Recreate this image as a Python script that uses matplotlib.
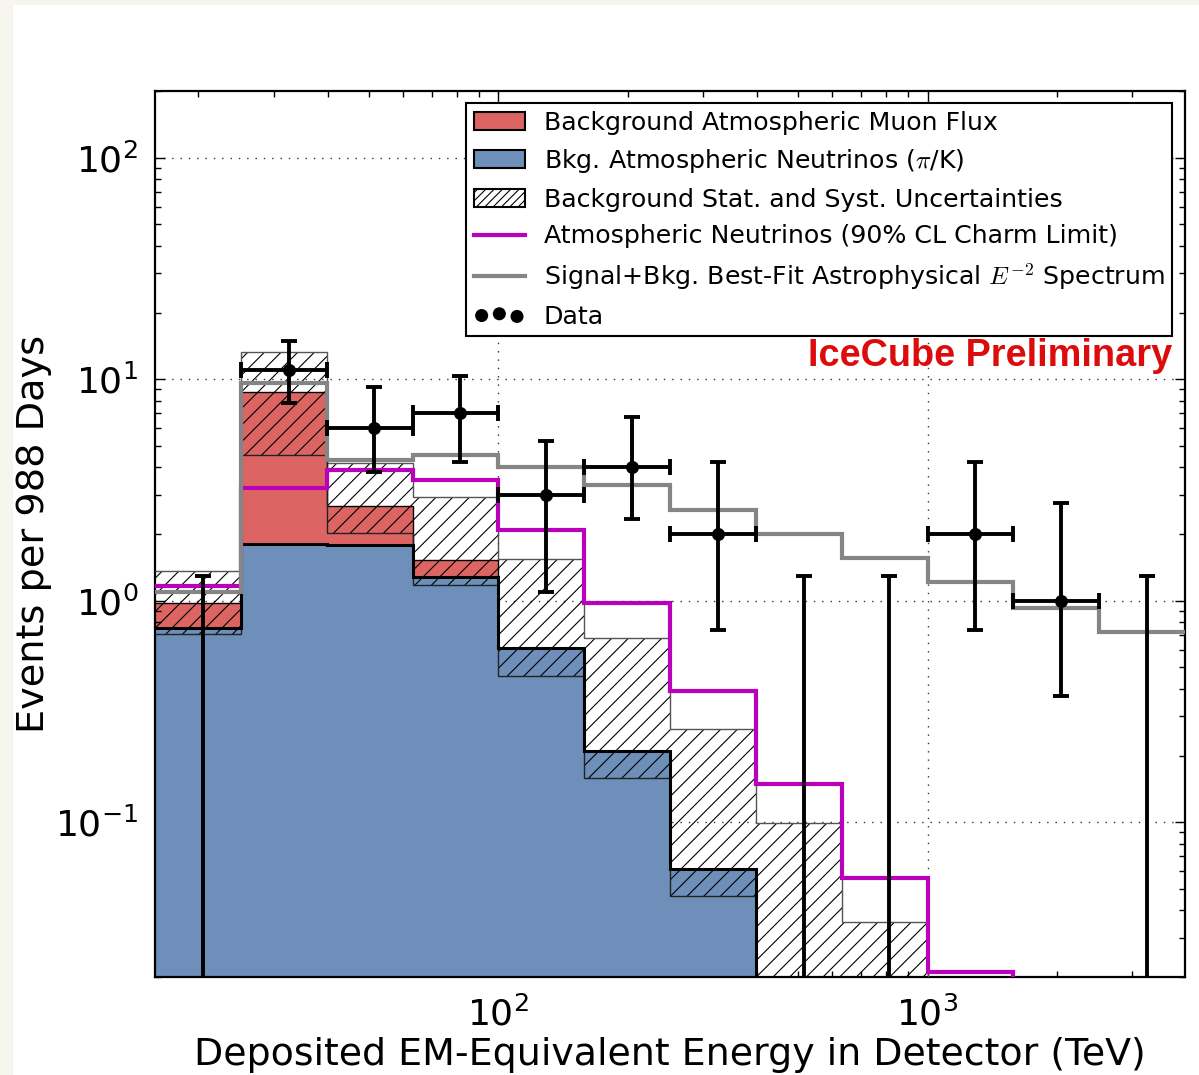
#!/usr/bin/env python3
"""
IceCube cascade energy spectrum - events per 988 days vs deposited energy
"""

import matplotlib
matplotlib.use('Agg')
import matplotlib.pyplot as plt
import matplotlib.patches as mpatches
from matplotlib.lines import Line2D
import numpy as np

plt.rcParams['mathtext.fontset'] = 'cm'
plt.rcParams['axes.unicode_minus'] = False
plt.rcParams['hatch.linewidth'] = 0.8

# bin edges in TeV (log10 steps of 0.2 from 10^1.2 to 10^3.6)
log_edges = [1.2, 1.4, 1.6, 1.8, 2.0, 2.2, 2.4, 2.6, 2.8, 3.0, 3.2, 3.4, 3.6]
edges = np.power(10.0, log_edges)

# stacked background components
atm_nu = [0.755, 1.81, 1.79, 1.28, 0.614, 0.210, 0.0617, 0.012, 0.004, 0.0015, 0.0005, 0.0002]
atm_mu = [0.225, 6.97, 0.89, 0.25, 0.0, 0.0, 0.0, 0.0, 0.0, 0.0, 0.0, 0.0]

# background uncertainty band
band_lo = [0.71, 4.56, 2.03, 1.18, 0.459, 0.159, 0.0466, 0.008, 0.003, 0.001, 0.0004, 0.0001]
band_hi = [1.365, 13.2, 4.2, 2.94, 1.55, 0.681, 0.264, 0.0995, 0.0356, 0.012, 0.004, 0.0015]

# model curves
charm_limit = [1.17, 3.24, 3.90, 3.51, 2.09, 0.98, 0.393, 0.149, 0.0562, 0.0211, 0.008, 0.003]
best_fit = [1.10, 9.64, 4.33, 4.56, 4.03, 3.34, 2.58, 1.99, 1.56, 1.21, 0.93, 0.72]

# data with 68% intervals
data_n = [0, 11, 6, 7, 3, 4, 2, 0, 0, 2, 1, 0]
data_lo = [0, 7.83, 3.82, 4.24, 1.10, 2.34, 0.74, 0, 0, 0.74, 0.37, 0]
data_hi = [1.29, 14.9, 9.25, 10.3, 5.27, 6.77, 4.24, 1.29, 1.29, 4.24, 2.75, 1.29]

RED = '#dc6563'
BLUE = '#6d8fba'
MAGENTA = '#bb00bb'
GRAY = '#858585'
PAPER = '#f6f6ee'


def steps(vals):
    """repeat last value so step='post' closes the last bin"""
    return np.append(vals, vals[-1])


def main():
    fig = plt.figure(figsize=(11.99, 10.75), dpi=100, facecolor='white')
    # off-white margin strips on the left and top of the page
    fig.patches.append(mpatches.Rectangle((0, 0), 13 / 1199, 1, transform=fig.transFigure,
                                          facecolor=PAPER, edgecolor='none', zorder=-5))
    fig.patches.append(mpatches.Rectangle((0, 1 - 5 / 1075), 1, 5 / 1075, transform=fig.transFigure,
                                          facecolor=PAPER, edgecolor='none', zorder=-5))
    ax = fig.add_axes([155 / 1199, 98 / 1075, 1030 / 1199, 886 / 1075])

    nu = np.array(atm_nu)
    mu = np.array(atm_mu)
    total = nu + mu
    floor = 1e-5

    # filled stacks
    ax.fill_between(edges, floor, steps(total), step='post', color=RED, lw=0, zorder=1)
    ax.fill_between(edges, floor, steps(nu), step='post', color=BLUE, lw=0, zorder=2)
    ax.stairs(total, edges, baseline=None, color='black', lw=1.0, zorder=3)

    # uncertainty band
    ax.fill_between(edges, steps(band_lo), steps(band_hi), step='post',
                    facecolor='none', edgecolor='black', hatch='//', lw=0, zorder=4)
    ax.stairs(band_hi, edges, baseline=None, color='#555555', lw=1.0, zorder=4)
    ax.stairs(band_lo, edges, baseline=None, color='#222222', lw=1.0, zorder=4)
    ax.stairs(nu, edges, baseline=None, color='black', lw=2.2, zorder=5)

    # model lines
    ax.stairs(charm_limit, edges, baseline=None, color=MAGENTA, lw=3, zorder=6)
    ax.stairs(best_fit, edges, baseline=None, color=GRAY, lw=3, zorder=6)

    # data points (arithmetic bin centres)
    centres = 0.5 * (edges[:-1] + edges[1:])
    n = np.array(data_n, dtype=float)
    lo = np.array(data_lo)
    hi = np.array(data_hi)
    nz = n > 0
    ax.errorbar(centres[nz], n[nz],
                yerr=[n[nz] - lo[nz], hi[nz] - n[nz]],
                xerr=[centres[nz] - edges[:-1][nz], edges[1:][nz] - centres[nz]],
                fmt='none', ecolor='black', elinewidth=2.8, capsize=6, capthick=2.8, zorder=8)
    zero_y = np.full((~nz).sum(), 1e-4)
    ax.errorbar(centres[~nz], zero_y,
                yerr=[np.zeros_like(zero_y), hi[~nz] - zero_y],
                fmt='none', ecolor='black', elinewidth=2.8, capsize=6, capthick=2.8, zorder=8)
    data_sc = ax.scatter(centres[nz], n[nz], s=70, color='black', zorder=9)

    ax.set_xscale('log')
    ax.set_yscale('log')
    ax.set_xlim(edges[0], edges[-1])
    ax.set_ylim(0.02, 200)

    ax.grid(True, which='major', color='#333333', linestyle=(0, (1, 5)), lw=1.0)
    ax.tick_params(which='both', direction='in', top=True, right=True, labelsize=26)
    ax.tick_params(axis='x', pad=14)
    ax.tick_params(axis='y', pad=12)
    ax.tick_params(which='major', length=7, width=1)
    ax.tick_params(which='minor', length=4, width=1)
    for sp in ax.spines.values():
        sp.set_linewidth(1.6)

    ax.set_xlabel('Deposited EM-Equivalent Energy in Detector (TeV)', fontsize=27.3, labelpad=3)
    ax.set_ylabel('Events per 988 Days', fontsize=27.5, labelpad=2)

    handles = [
        mpatches.Patch(facecolor=RED, edgecolor='black', lw=1.5),
        mpatches.Patch(facecolor=BLUE, edgecolor='black', lw=1.5),
        mpatches.Patch(facecolor='white', edgecolor='black', hatch='////', lw=1.5),
        Line2D([], [], color=MAGENTA, lw=3),
        Line2D([], [], color=GRAY, lw=3),
        data_sc,
    ]
    labels = [
        'Background Atmospheric Muon Flux',
        r'Bkg. Atmospheric Neutrinos ($\pi$/K)',
        'Background Stat. and Syst. Uncertainties',
        'Atmospheric Neutrinos (90% CL Charm Limit)',
        r'Signal+Bkg. Best-Fit Astrophysical $E^{-2}$ Spectrum',
        'Data',
    ]
    leg = ax.legend(handles, labels, loc='upper right', bbox_to_anchor=(0.9874, 0.9865),
                    fontsize=18.2, frameon=True, fancybox=False, framealpha=1,
                    edgecolor='black', scatterpoints=3, scatteryoffsets=[0.45, 0.55, 0.4],
                    handlelength=2.0, handletextpad=0.75, labelspacing=0.5,
                    borderpad=0.3, borderaxespad=0)
    leg.get_frame().set_linewidth(1.5)
    leg.set_zorder(20)

    ax.text(0.9874, 0.701, 'IceCube Preliminary', transform=ax.transAxes,
            ha='right', va='center', fontsize=27.3, fontweight='bold',
            family='Liberation Sans', color='#dd0c0c', zorder=21)

    plt.savefig('out.png', dpi=100, facecolor=fig.get_facecolor())
    plt.close()


if __name__ == "__main__":
    main()
